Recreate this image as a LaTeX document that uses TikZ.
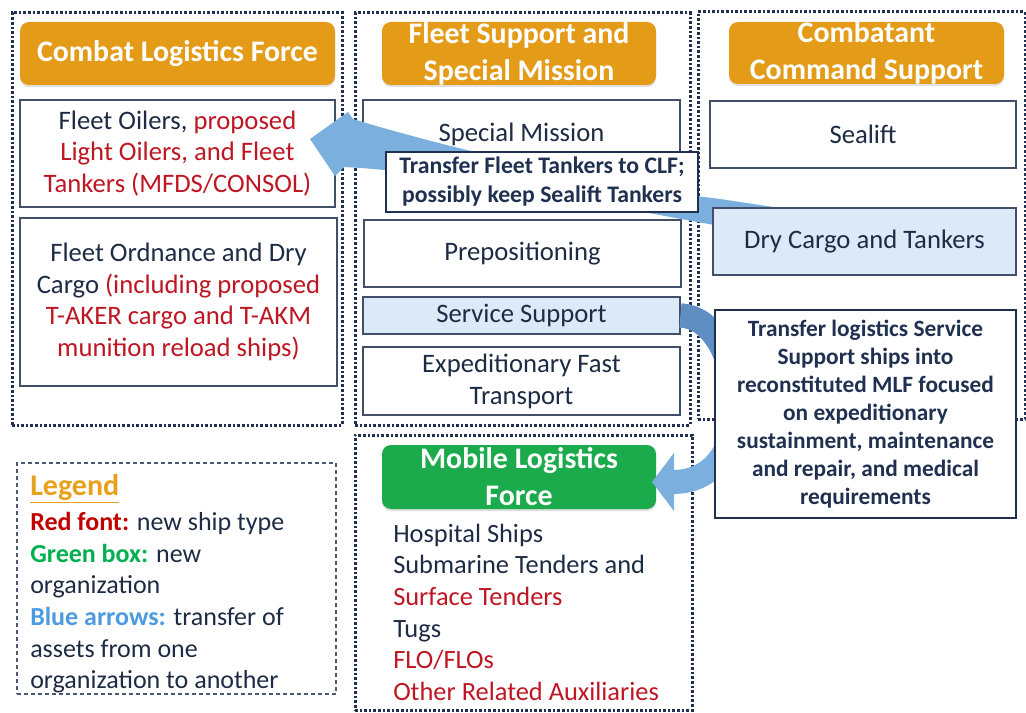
\documentclass[tikz,border=0pt]{standalone}
\usepackage{fontspec}
\setmainfont{Carlito}
\usetikzlibrary{fit,arrows.meta,shadows}
\newlength{\pxu}\setlength{\pxu}{0.75pt}
\definecolor{navy}{HTML}{1F3050}
\definecolor{hdr}{HTML}{E39B18}
\definecolor{mlfgreen}{HTML}{1BAA4C}
\definecolor{redt}{HTML}{BE1622}
\definecolor{lblue}{HTML}{DCE9F8}
\definecolor{arrowblue}{HTML}{7AAFDE}
\definecolor{arrowdark}{HTML}{5E8EC2}
\definecolor{txt}{HTML}{1E2B44}
\definecolor{legor}{HTML}{E8A11A}
\definecolor{leggreen}{HTML}{00B050}
\definecolor{legblue}{HTML}{4E9AE0}
\definecolor{legred}{HTML}{C00000}
\tikzset{
  frame/.style={draw=navy, line width=3\pxu, dash pattern=on 2.6\pxu off 2\pxu, inner sep=0pt},
  hdrbox/.style={fill=hdr, rounded corners=9\pxu, inner sep=0pt,
    drop shadow={shadow xshift=0pt, shadow yshift=-1.5pt, opacity=0.25}},
  htext/.style={text=white, font=\bfseries\fontsize{22.4}{27.75}\selectfont, align=center, inner sep=0pt},
  itembox/.style={draw=navy!85, line width=1.3\pxu, fill=white, inner sep=0pt},
  itext/.style={text=txt, align=center, inner sep=0pt, font=\fontsize{20}{23.7}\selectfont},
  callout/.style={draw=navy, line width=1.5\pxu, fill=white, inner sep=0pt},
  ctext/.style={text=navy, align=center, inner sep=0pt, font=\bfseries\fontsize{17.8}{21.75}\selectfont},
  legbox/.style={draw=navy!80, line width=1.2\pxu, dash pattern=on 4\pxu off 3\pxu, inner sep=0pt},
  legtxt/.style={anchor=base west, inner sep=0pt, text=txt, font=\fontsize{19.5}{24}\selectfont},
  listtxt/.style={anchor=base west, inner sep=0pt, text=txt, font=\fontsize{19.8}{23.7}\selectfont},
  curvearrow/.style={line width=18pt, -{Triangle[length=16.5pt, width=42.75pt]}}
}
\begin{document}
\begin{tikzpicture}[x=0.75pt,y=-0.75pt]
\useasboundingbox (0,0) rectangle (1026,713);
% frames
\node[frame, fit={(12,13) (342,425)}] (fclf) {};
\node[frame, fit={(355,13) (690,425)}] (ffss) {};
\node[frame, fit={(698,12) (1025,419)}] (fccs) {};
\node[frame, fit={(355,435) (692,710)}] (fmlf) {};
% headers
\node[hdrbox, fit={(20,22) (335,85)}, label={[htext]center:Combat Logistics Force}] (hclf) {};
\node[hdrbox, fit={(382,22) (656,85)}, label={[htext]center:{Fleet Support and\\Special Mission}}] (hfss) {};
\node[hdrbox, fit={(729,22) (1004,84)}, label={[htext]center:{Combatant\\Command Support}}] (hccs) {};
\node[hdrbox, fill=mlfgreen, fit={(382,445) (656,509)}, label={[htext]center:{Mobile Logistics\\Force}}] (hmlf) {};
% item boxes
\node[itembox, fit={(20,100) (335,207)}, label={[itext]center:{Fleet Oilers, \textcolor{redt}{proposed}\\\textcolor{redt}{Light Oilers, and Fleet}\\\textcolor{redt}{Tankers (MFDS/CONSOL)}}}] (oil) {};
\node[itembox, fit={(20,218) (337,386)}, label={[itext, font=\fontsize{20}{31.7\pxu}\selectfont]center:{Fleet Ordnance and Dry\\Cargo \textcolor{redt}{(including proposed}\\\textcolor{redt}{T-AKER cargo and T-AKM}\\\textcolor{redt}{munition reload ships)}}}] (ord) {};
\node[itembox, fit={(363,100) (680,162)}, label={[itext, yshift=-3\pxu]center:Special Mission}] (sm) {};
\node[itembox, fit={(364,220) (681,287)}, label={[itext]center:Prepositioning}] (prep) {};
\node[itembox, fill=lblue, fit={(363,297) (680,334)}, label={[itext]center:Service Support}] (ss) {};
\node[itembox, fit={(363,347) (680,415)}, label={[itext, font=\fontsize{20}{24}\selectfont]center:{Expeditionary Fast\\Transport}}] (eft) {};
\node[itembox, fit={(710,101) (1016,168)}, label={[itext]center:Sealift}] (seal) {};
% arrow 1 (Dry Cargo -> CLF oilers)
\coordinate (t1) at (310,139);
\fill[arrowblue] (t1) -- (348,112) -- (353,119) .. controls (430,143) and (600,185) .. (720,199)
  -- (800,211) -- (800,236) -- (720,226) .. controls (600,205) and (450,172) .. (344,167) -- (335,176) -- cycle;
\node[itembox, fill=lblue, fit={(713,208) (1016,275)}, label={[itext]center:Dry Cargo and Tankers}] (dry) {};
% arrow 2 (Service Support -> MLF)
\coordinate (t2) at (652,482);
\draw[curvearrow, arrowblue] (ss.east) .. controls (745,318) and (765,482) .. (t2);
\begin{scope}
  \clip (600,280) rectangle (760,372);
  \draw[line width=18pt, arrowdark] (ss.east) .. controls (745,318) and (765,482) .. (t2);
\end{scope}
% callouts
\node[callout, fit={(386,152) (698,212)}, label={[ctext]center:{Transfer Fleet Tankers to CLF;\\possibly keep Sealift Tankers}}] (c1) {};
\node[callout, fit={(715,310) (1016,518)}, label={[ctext, font=\bfseries\fontsize{17.5}{21}\selectfont]center:{Transfer logistics Service\\Support ships into\\reconstituted MLF focused\\on expeditionary\\sustainment, maintenance\\and repair, and medical\\requirements}}] (c2) {};
% legend
\node[legbox, fit={(17,463) (336,694)}] (leg) {};
\node[legtxt, font=\fontsize{22.5}{24}\selectfont] (lg0) at (30,495) {\textcolor{legor}{\bfseries\underline{Legend}}};
\node[legtxt] (lg1) at (30,530) {\textcolor{legred}{\bfseries Red font:} new ship type};
\node[legtxt] (lg2) at (30,562) {\textcolor{leggreen}{\bfseries Green box:} new};
\node[legtxt] (lg3) at (30,593) {organization};
\node[legtxt] (lg4) at (30,625) {\textcolor{legblue}{\bfseries Blue arrows:} transfer of};
\node[legtxt] (lg5) at (30,657) {assets from one};
\node[legtxt] (lg6) at (30,688) {organization to another};
% MLF list
\node[listtxt] (m1) at (393,542) {Hospital Ships};
\node[listtxt] (m2) at (393,573) {Submarine Tenders and};
\node[listtxt, text=redt] (m3) at (393,605) {Surface Tenders};
\node[listtxt] (m4) at (393,637) {Tugs};
\node[listtxt, text=redt] (m5) at (393,668) {FLO/FLOs};
\node[listtxt, text=redt] (m6) at (393,700) {Other Related Auxiliaries};
\end{tikzpicture}
\end{document}
